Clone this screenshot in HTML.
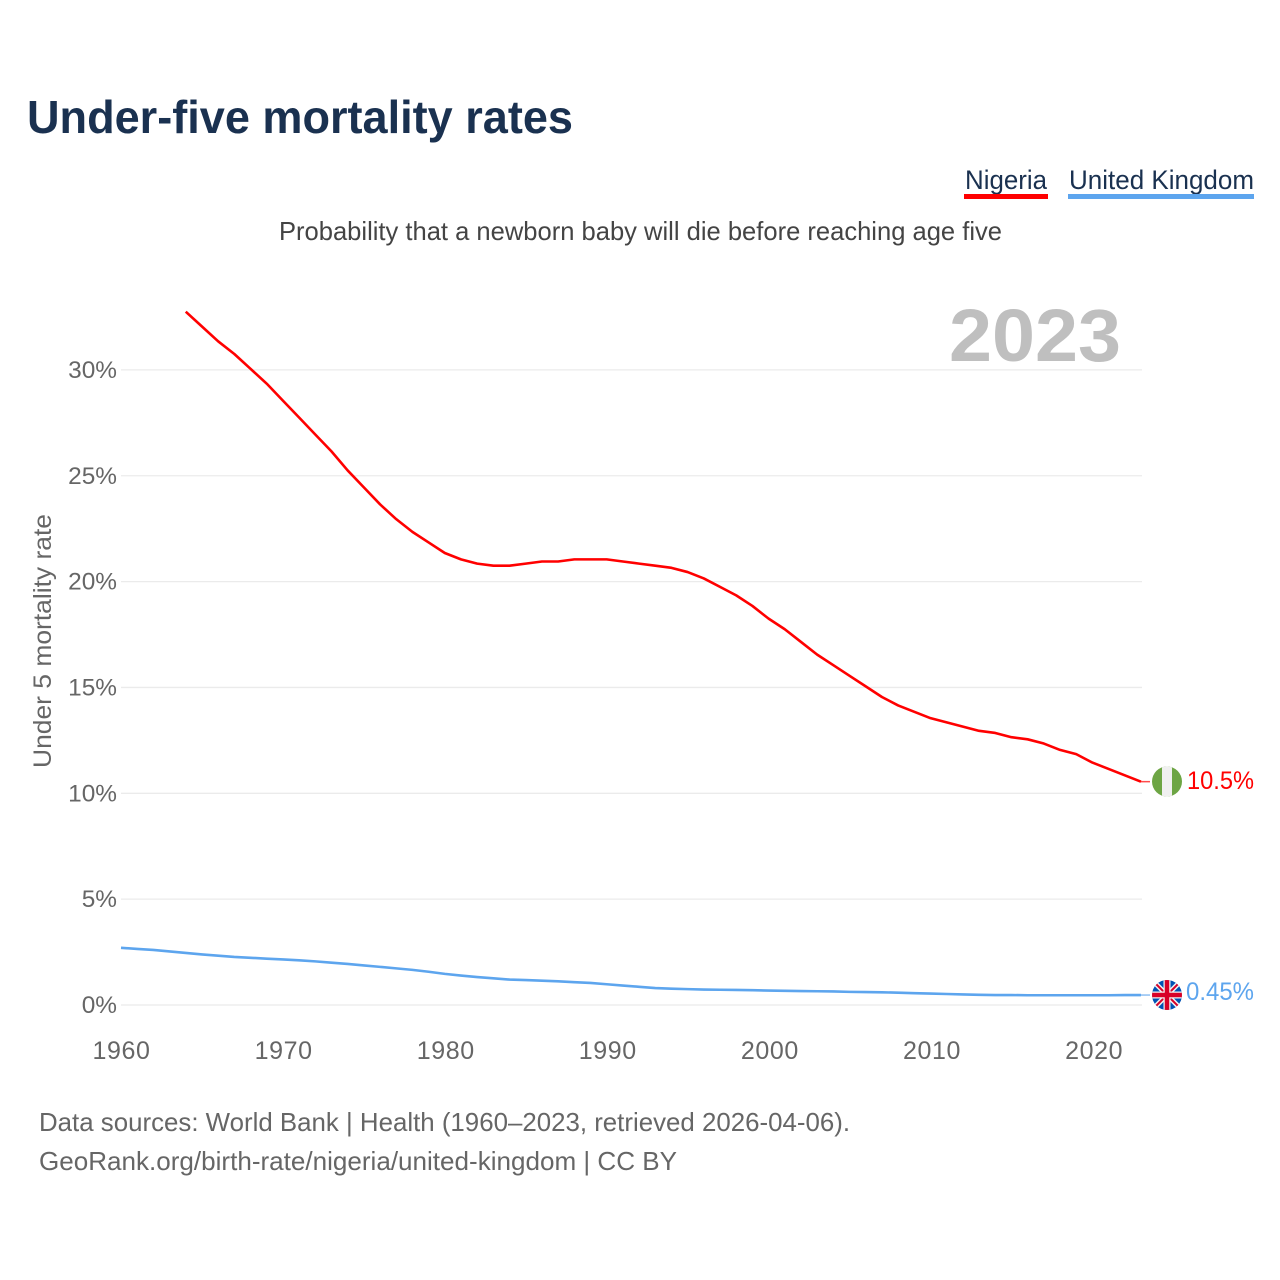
<!DOCTYPE html>
<html lang="en">
<head>
<meta charset="utf-8">
<title>Under-five mortality rates</title>
<style>
html,body{margin:0;padding:0;background:#fff;}
svg{display:block;font-family:"Liberation Sans",sans-serif;}
</style>
</head>
<body>
<svg id="chart" xmlns="http://www.w3.org/2000/svg" width="1280" height="1280" viewBox="0 0 1280 1280">
  <defs>
    <clipPath id="ng-clip"><circle cx="1167" cy="781.5" r="15"/></clipPath>
    <clipPath id="uk-clip"><circle cx="1167" cy="995" r="15"/></clipPath>
  </defs>
  <rect width="1280" height="1280" fill="#fff"/>
  <text x="27" y="133" font-size="46" font-weight="700" fill="#1a3150" textLength="546" lengthAdjust="spacingAndGlyphs">Under-five mortality rates</text>
  <g>
    <text x="965" y="189" font-size="27" fill="#1a3150" textLength="82" lengthAdjust="spacingAndGlyphs">Nigeria</text>
    <rect x="964" y="194" width="84" height="5" fill="#ff0000"/>
  </g>
  <g>
    <text x="1069" y="189" font-size="27" fill="#1a3150" textLength="185" lengthAdjust="spacingAndGlyphs">United Kingdom</text>
    <rect x="1068" y="194" width="186" height="5" fill="#5da5ee"/>
  </g>
  <text x="279" y="240" font-size="26" fill="#444" textLength="723" lengthAdjust="spacingAndGlyphs">Probability that a newborn baby will die before reaching age five</text>
  <g id="grid"></g>
  <text x="949" y="361" font-size="74" font-weight="700" fill="#bfbfbf" textLength="172" lengthAdjust="spacingAndGlyphs">2023</text>
  <g id="y-ticks"></g>
  <g id="x-ticks"></g>
  <text transform="translate(51,768) rotate(-90)" font-size="25" fill="#666" textLength="254" lengthAdjust="spacingAndGlyphs">Under 5 mortality rate</text>
  <path id="line-nigeria" fill="none" stroke="#ff0000" stroke-width="2.6" stroke-linejoin="round"/>
  <path id="line-uk" fill="none" stroke="#5da5ee" stroke-width="2.6" stroke-linejoin="round"/>
  <line id="conn-nigeria" stroke="#ff0000" stroke-width="1.5" opacity=".7"/>
  <line id="conn-uk" stroke="#5da5ee" stroke-width="1.5" opacity=".7"/>
  <g clip-path="url(#ng-clip)">
    <rect x="1152" y="766" width="30" height="31" fill="#6da544"/>
    <rect x="1162" y="766" width="10" height="31" fill="#f0f0f0"/>
  </g>
  <g clip-path="url(#uk-clip)">
    <rect x="1152" y="980" width="30" height="30" fill="#0052b4"/>
    <path d="M1152 980L1182 1010M1182 980L1152 1010" stroke="#f0f0f0" stroke-width="5"/>
    <path d="M1152 980L1182 1010M1182 980L1152 1010" stroke="#d80027" stroke-width="2"/>
    <path d="M1167 980V1010M1152 995H1182" stroke="#f0f0f0" stroke-width="7"/>
    <path d="M1167 980V1010M1152 995H1182" stroke="#d80027" stroke-width="4.5"/>
  </g>
  <text id="label-nigeria" x="1187" y="789" font-size="25" fill="#ff0000" textLength="67" lengthAdjust="spacingAndGlyphs"></text>
  <text id="label-uk" x="1186" y="1000" font-size="25" fill="#5da5ee" textLength="68" lengthAdjust="spacingAndGlyphs"></text>
  <text x="39" y="1131" font-size="26" fill="#666" textLength="811" lengthAdjust="spacingAndGlyphs">Data sources: World Bank | Health (1960–2023, retrieved 2026-04-06).</text>
  <text x="39" y="1170" font-size="26" fill="#666" textLength="638" lengthAdjust="spacingAndGlyphs">GeoRank.org/birth-rate/nigeria/united-kingdom | CC BY</text>
</svg>
<script>
const nigeriaYears = [1964,1965,1966,1967,1968,1969,1970,1971,1972,1973,1974,1975,1976,1977,1978,1979,1980,1981,1982,1983,1984,1985,1986,1987,1988,1989,1990,1991,1992,1993,1994,1995,1996,1997,1998,1999,2000,2001,2002,2003,2004,2005,2006,2007,2008,2009,2010,2011,2012,2013,2014,2015,2016,2017,2018,2019,2020,2021,2022,2023];
const nigeriaValues = [32.75,32.05,31.35,30.75,30.05,29.35,28.55,27.75,26.95,26.15,25.25,24.45,23.65,22.95,22.35,21.85,21.35,21.05,20.85,20.75,20.75,20.85,20.95,20.95,21.05,21.05,21.05,20.95,20.85,20.75,20.65,20.45,20.15,19.75,19.35,18.85,18.25,17.75,17.15,16.55,16.05,15.55,15.05,14.55,14.15,13.85,13.55,13.35,13.15,12.95,12.85,12.65,12.55,12.35,12.05,11.85,11.45,11.15,10.85,10.55];
const ukYears = [1960,1961,1962,1963,1964,1965,1966,1967,1968,1969,1970,1971,1972,1973,1974,1975,1976,1977,1978,1979,1980,1981,1982,1983,1984,1985,1986,1987,1988,1989,1990,1991,1992,1993,1994,1995,1996,1997,1998,1999,2000,2001,2002,2003,2004,2005,2006,2007,2008,2009,2010,2011,2012,2013,2014,2015,2016,2017,2018,2019,2020,2021,2022,2023];
const ukValues = [2.7,2.65,2.6,2.53,2.46,2.39,2.33,2.27,2.23,2.19,2.15,2.11,2.06,2.0,1.94,1.87,1.8,1.73,1.66,1.57,1.47,1.39,1.32,1.26,1.2,1.18,1.15,1.12,1.08,1.04,0.98,0.92,0.86,0.8,0.77,0.75,0.73,0.72,0.71,0.7,0.68,0.67,0.66,0.65,0.64,0.62,0.61,0.6,0.58,0.56,0.54,0.52,0.5,0.48,0.47,0.47,0.46,0.46,0.46,0.46,0.46,0.46,0.47,0.47];
const yTickValues = [0,5,10,15,20,25,30];
const yTickLabels = ['0%','5%','10%','15%','20%','25%','30%'];
const xTickValues = [1960,1970,1980,1990,2000,2010,2020];
const xTickLabels = ['1960','1970','1980','1990','2000','2010','2020'];
const nigeriaLabel = '10.5%';
const ukLabel = '0.45%';

const NS = 'http://www.w3.org/2000/svg';
function xScale(year) { return 121 + (year - 1960) * 16.19; }
function xTickScale(year) { return 121.5 + (year - 1960) * 16.21; }
function yScale(value) { return 1005 - value * 21.17; }
function linePath(xs, ys) {
  return xs.map(function (x, i) {
    return (i ? 'L' : 'M') + xScale(x).toFixed(2) + ' ' + yScale(ys[i]).toFixed(2);
  }).join('');
}

const grid = document.getElementById('grid');
const yTicks = document.getElementById('y-ticks');
const xTicks = document.getElementById('x-ticks');

yTickValues.forEach(function (v, i) {
  const gl = document.createElementNS(NS, 'line');
  
  
  gl.setAttribute('x1', 121);
  gl.setAttribute('x2', 1142);
  gl.setAttribute('y1', yScale(v));
  gl.setAttribute('y2', yScale(v));
  gl.setAttribute('stroke', '#ebebeb');
  gl.setAttribute('stroke-width', '1.3');
  grid.appendChild(gl);

  const t = document.createElementNS(NS, 'text');
  
  
  t.setAttribute('x', 117);
  t.setAttribute('y', yScale(v) + 8);
  t.setAttribute('text-anchor', 'end');
  t.setAttribute('font-size', '24.4');
  t.setAttribute('fill', '#666');
  t.textContent = yTickLabels[i];
  yTicks.appendChild(t);
});

xTickValues.forEach(function (v, i) {
  const t = document.createElementNS(NS, 'text');
  
  
  t.setAttribute('x', xTickScale(v));
  t.setAttribute('y', 1059);
  t.setAttribute('text-anchor', 'middle');
  t.setAttribute('font-size', '25');
  t.setAttribute('letter-spacing', '0.6');
  t.setAttribute('fill', '#666');
  t.textContent = xTickLabels[i];
  xTicks.appendChild(t);
});

document.getElementById('line-nigeria').setAttribute('d', linePath(nigeriaYears, nigeriaValues));
document.getElementById('line-uk').setAttribute('d', linePath(ukYears, ukValues));

function connector(id, years, values) {
  const last = values.length - 1;
  const c = document.getElementById(id);
  c.setAttribute('x1', xScale(years[last]));
  c.setAttribute('x2', 1150);
  c.setAttribute('y1', yScale(values[last]));
  c.setAttribute('y2', yScale(values[last]));
}
connector('conn-nigeria', nigeriaYears, nigeriaValues);
connector('conn-uk', ukYears, ukValues);

document.getElementById('label-nigeria').textContent = nigeriaLabel;
document.getElementById('label-uk').textContent = ukLabel;
</script>
</body>
</html>
